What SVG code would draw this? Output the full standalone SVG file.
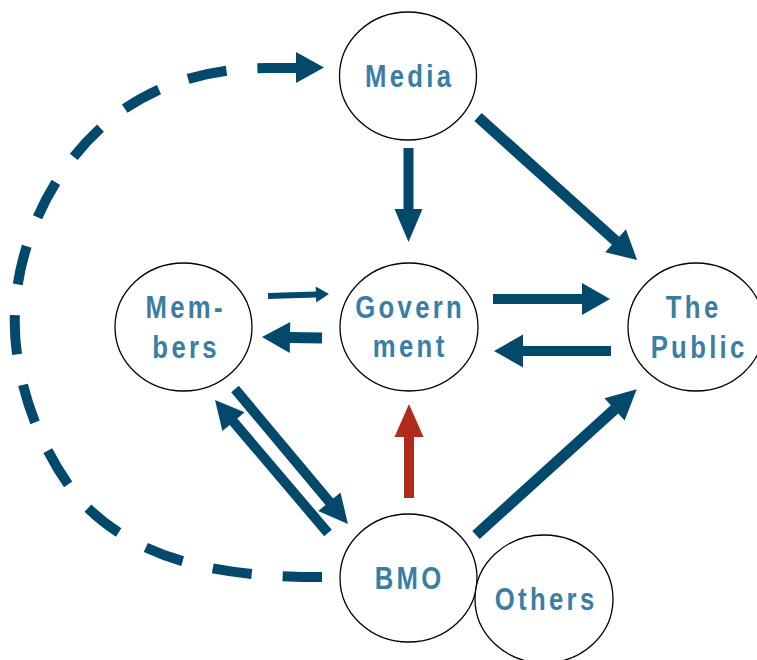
<svg xmlns="http://www.w3.org/2000/svg" width="757" height="660" viewBox="0 0 757 660">
  <style>
    .node ellipse { fill: #ffffff; stroke: #000000; stroke-width: 1.3; }
    .label { font-family: "Liberation Sans", Arial, sans-serif; font-weight: bold; font-size: 31px; fill: #3a7ea2; letter-spacing: 4px; text-anchor: middle; }
    .arrow { fill: #02496c; }
    .arrow.red { fill: #b02a1e; }
    .dashed { fill: none; stroke: #02496c; stroke-width: 10; }
  </style>

  <rect width="757" height="660" fill="#ffffff"/>

  <!-- connectors: each arrow is drawn along +x from its tail, then placed with translate/rotate -->
  <g id="connectors">
    <!-- dashed link BMO -> Media around the left side -->
    <path class="dashed" pathLength="1000" stroke-dasharray="44.5 35.1"
          d="M322,577 C230,577 140,565 80,500 C35,445 12,370 15,312 C18,240 55,160 120,112 C165,80 215,68 268,68 L297,68"/>
    <polygon class="arrow" points="296,52 324,67.5 296,83"/>

    <!-- Media -> Government -->
    <polygon class="arrow" transform="translate(408.5,148) rotate(90)" points="0,-5 61,-5 61,-14 94,0 61,14 61,5 0,5"/>
    <!-- Media -> The Public -->
    <polygon class="arrow" transform="translate(478,117) rotate(41.97)" points="0,-5.5 185,-5.5 185,-15.5 214,0 185,15.5 185,5.5 0,5.5"/>
    <!-- Government -> The Public -->
    <polygon class="arrow" transform="translate(493,299)" points="0,-5 89,-5 89,-16 117,0 89,16 89,5 0,5"/>
    <!-- The Public -> Government -->
    <polygon class="arrow" transform="translate(611,351) rotate(180)" points="0,-5 88,-5 88,-16.5 117,0 88,16.5 88,5 0,5"/>
    <!-- Members -> Government (thin) -->
    <polygon class="arrow" transform="translate(268,296) rotate(-1.88)" points="0,-3 48,-3 48,-8 61,0 48,8 48,3 0,3"/>
    <!-- Government -> Members -->
    <polygon class="arrow" transform="translate(322,338) rotate(180.95)" points="0,-5.5 32,-5.5 32,-15.5 60,0 32,15.5 32,5.5 0,5.5"/>
    <!-- Members -> BMO -->
    <polygon class="arrow" transform="translate(235,389) rotate(50.07)" points="0,-5 147,-5 147,-14.5 176,0 147,14.5 147,5 0,5"/>
    <!-- BMO -> Members -->
    <polygon class="arrow" transform="translate(328,533) rotate(229.65)" points="0,-5 146,-5 146,-14.5 174.5,0 146,14.5 146,5 0,5"/>
    <!-- BMO -> Government (red) -->
    <polygon class="arrow red" transform="translate(409,498) rotate(-90)" points="0,-5 61,-5 61,-14.5 94,0 61,14.5 61,5 0,5"/>
    <!-- BMO -> The Public -->
    <polygon class="arrow" transform="translate(476,535) rotate(-42.2)" points="0,-5.5 187,-5.5 187,-15 217,0 187,15 187,5.5 0,5.5"/>
  </g>

  <!-- nodes -->
  <g id="media" class="node">
    <ellipse cx="408" cy="76" rx="68.5" ry="64"/>
    <text class="label" transform="translate(408,87) scale(0.83,1)" x="2">Media</text>
  </g>
  <g id="government" class="node">
    <ellipse cx="409" cy="327" rx="69" ry="64"/>
    <text class="label" transform="translate(408.5,318) scale(0.83,1)" x="2">Govern</text>
    <text class="label" transform="translate(408.5,357) scale(0.83,1)" x="2">ment</text>
  </g>
  <g id="members" class="node">
    <ellipse cx="183.5" cy="327" rx="68.5" ry="64"/>
    <text class="label" transform="translate(184,318) scale(0.83,1)" x="2">Mem-</text>
    <text class="label" transform="translate(184.5,358) scale(0.83,1)" x="2">bers</text>
  </g>
  <g id="the-public" class="node">
    <ellipse cx="696" cy="327" rx="68" ry="64"/>
    <text class="label" transform="translate(692,318) scale(0.83,1)" x="2">The</text>
    <text class="label" transform="translate(697.5,358) scale(0.83,1)" x="2">Public</text>
  </g>
  <g id="bmo" class="node">
    <ellipse cx="408.5" cy="578" rx="68.5" ry="64"/>
    <text class="label" transform="translate(408,589) scale(0.83,1)" x="2">BMO</text>
  </g>
  <g id="others" class="node">
    <ellipse cx="544" cy="599" rx="69" ry="64"/>
    <text class="label" transform="translate(544.5,610) scale(0.83,1)" x="2">Others</text>
  </g>
</svg>
